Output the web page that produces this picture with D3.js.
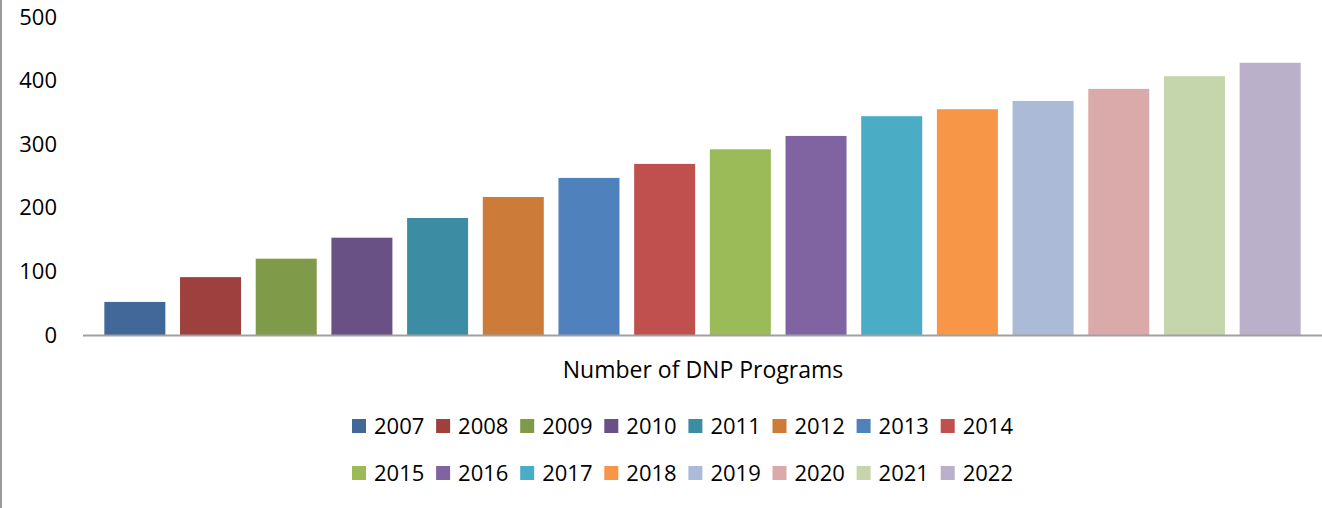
<!DOCTYPE html>
<html>
<head>
<meta charset="utf-8">
<script src="https://cdn.jsdelivr.net/npm/d3@7"></script>
<style>
  body { margin: 0; background: #fff; }
  text { font-family: "Open Sans", sans-serif; fill: #000; }
</style>
</head>
<body>
<div id="chart"></div>
<script>
// data
var years = ["2007", "2008", "2009", "2010", "2011", "2012", "2013", "2014",
             "2015", "2016", "2017", "2018", "2019", "2020", "2021", "2022"];
var programs = [52, 91, 120, 153, 184, 217, 247, 269,
                292, 313, 344, 355, 368, 387, 407, 428];
var colors = ["#416898", "#9E413E", "#7F9A48", "#695185", "#3C8DA3", "#CC7B38", "#4F81BD", "#C0504D",
              "#9BBB59", "#8064A2", "#4BACC6", "#F79646", "#AABAD7", "#D9AAA9", "#C6D6AC", "#BAB0C9"];
var yTicks = [0, 100, 200, 300, 400, 500];
var categoryLabel = "Number of DNP Programs";

var WIDTH = 1322, HEIGHT = 508;
var plotLeft = 83, plotRight = 1322, plotTop = 17, plotBase = 335;

var svg = d3.select("#chart").append("svg")
    .attr("width", WIDTH)
    .attr("height", HEIGHT);

// frame edge on the left
svg.append("line")
    .attr("x1", 1).attr("x2", 1)
    .attr("y1", 0).attr("y2", HEIGHT)
    .attr("stroke", "#9a9a9a")
    .attr("stroke-width", 2);

var x = d3.scaleBand()
    .domain(years)
    .range([plotLeft, plotRight])
    .paddingInner(0.194)
    .paddingOuter(0.282);

var y = d3.scaleLinear()
    .domain([0, 500])
    .range([plotBase, plotTop]);

var yAxis = svg.append("g")
    .attr("transform", "translate(" + plotLeft + ",0)")
    .call(d3.axisLeft(y).tickValues(yTicks).tickSize(0).tickPadding(26));
yAxis.select(".domain").remove();
yAxis.selectAll("text")
    .attr("font-family", "Open Sans")
    .attr("font-size", 22)
    .attr("fill", "#000");

svg.append("g").selectAll("rect")
    .data(programs)
    .enter().append("rect")
    .attr("x", function (d, i) { return x(years[i]); })
    .attr("y", function (d) { return y(d); })
    .attr("width", x.bandwidth())
    .attr("height", function (d) { return y(0) - y(d); })
    .attr("fill", function (d, i) { return colors[i]; });

// category axis line
svg.append("line")
    .attr("x1", plotLeft).attr("x2", plotRight)
    .attr("y1", y(0) + 0.5).attr("y2", y(0) + 0.5)
    .attr("stroke", "#a0a0a0")
    .attr("stroke-width", 2);

svg.append("text")
    .attr("x", 703)
    .attr("y", 370)
    .attr("dy", "0.35em")
    .attr("text-anchor", "middle")
    .attr("font-size", 23)
    .text(categoryLabel);

// legend, two rows of eight
var legend = svg.append("g");
var item = legend.selectAll("g")
    .data(years)
    .enter().append("g")
    .attr("transform", function (d, i) {
        return "translate(" + (352 + (i % 8) * 84.1) + "," + (i < 8 ? 426 : 473) + ")";
    });
item.append("rect")
    .attr("x", 0).attr("y", -7)
    .attr("width", 14).attr("height", 14)
    .attr("fill", function (d, i) { return colors[i]; });
item.append("text")
    .attr("x", 22)
    .attr("dy", "0.35em")
    .attr("font-size", 22)
    .text(function (d) { return d; });
</script>
</body>
</html>
